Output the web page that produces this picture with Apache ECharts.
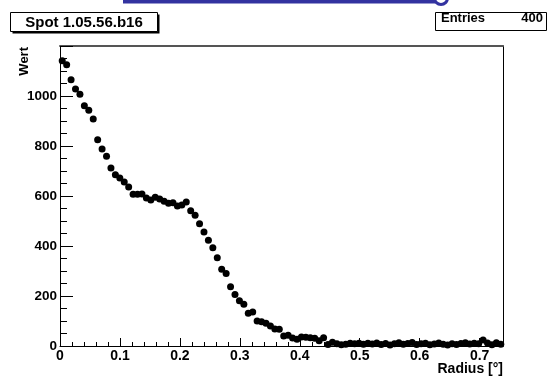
<!DOCTYPE html>
<html>
<head>
<meta charset="utf-8">
<script src="https://cdn.jsdelivr.net/npm/echarts@6.0.0/dist/echarts.min.js"></script>
<style>
  html, body { margin: 0; padding: 0; background: #fff; }
  #chart { width: 551px; height: 376px; }
</style>
</head>
<body>
<div id="chart"></div>
<script>
// histogram contents, 100 bins over the radius range
const wert = [
  1141, 1125, 1065, 1028, 1007, 961, 943, 908, 825, 788,
  759, 712, 685, 672, 656, 636, 607, 607, 608, 592,
  584, 595, 588, 579, 571, 573, 560, 564, 576, 541,
  523, 489, 456, 423, 393, 353, 307, 290, 237, 206,
  181, 167, 131, 136, 100, 97, 91, 80, 68, 67,
  40, 43, 32, 27, 36, 35, 33, 31, 21, 33,
  6, 15, 9, 5, 7, 11, 9, 11, 7, 11,
  8, 12, 6, 10, 4, 9, 13, 7, 10, 14,
  6, 9, 11, 5, 8, 12, 7, 4, 9, 6,
  10, 13, 8, 11, 9, 24, 12, 5, 13, 7
];
const radiusMin = 0;
const radiusMax = 0.739;
const wertMin = 0;
const wertMax = 1200;
const titleText = 'Spot 1.05.56.b16';
const entries = 400;

const binWidth = (radiusMax - radiusMin) / wert.length;
const points = wert.map((v, i) => [radiusMin + (i + 0.5) * binWidth, v]);

const font = '"Liberation Sans", Arial, Helvetica, sans-serif';
const chart = echarts.init(document.getElementById('chart'), null, { renderer: 'canvas' });

chart.setOption({
  animation: false,
  backgroundColor: '#fff',
  grid: { left: 60, top: 46, right: 48, bottom: 30, containLabel: false },
  xAxis: [
    {
      type: 'value',
      min: radiusMin,
      max: radiusMax,
      interval: 0.1,
      position: 'bottom',
      axisLine: { onZero: false, lineStyle: { color: '#000', width: 1 } },
      axisTick: { inside: true, length: 8, lineStyle: { color: '#000' } },
      minorTick: { show: true, splitNumber: 5, length: 4, lineStyle: { color: '#000' } },
      splitLine: { show: false },
      axisLabel: {
        showMaxLabel: false,
        margin: 3,
        color: '#000',
        fontFamily: font,
        fontWeight: 'bold',
        fontSize: 14,
        formatter: v => String(Math.round(v * 10) / 10)
      }
    },
    {
      type: 'value',
      min: radiusMin,
      max: radiusMax,
      position: 'top',
      axisLine: { onZero: false, lineStyle: { color: '#555', width: 2 } },
      axisTick: { show: false },
      axisLabel: { show: false },
      splitLine: { show: false }
    }
  ],
  yAxis: [
    {
      type: 'value',
      min: wertMin,
      max: wertMax,
      interval: 200,
      position: 'left',
      axisLine: { show: true, onZero: false, lineStyle: { color: '#000', width: 1 } },
      axisTick: { show: true, inside: true, length: 13, lineStyle: { color: '#000' } },
      minorTick: { show: true, splitNumber: 4, length: 7, lineStyle: { color: '#000' } },
      splitLine: { show: false },
      axisLabel: {
        showMaxLabel: false,
        margin: 3,
        color: '#000',
        fontFamily: font,
        fontWeight: 'bold',
        fontSize: 13.5,
        formatter: v => String(v)
      }
    },
    {
      type: 'value',
      min: wertMin,
      max: wertMax,
      position: 'right',
      axisLine: { show: true, onZero: false, lineStyle: { color: '#000', width: 1 } },
      axisTick: { show: false },
      axisLabel: { show: false },
      splitLine: { show: false }
    }
  ],
  series: [
    {
      type: 'scatter',
      xAxisIndex: 0,
      yAxisIndex: 0,
      data: points,
      symbol: 'circle',
      symbolSize: 7,
      itemStyle: { color: '#000', opacity: 1 },
      silent: true
    }
  ],
  graphic: [
    // cut-off link text above the canvas
    { type: 'rect', shape: { x: 123, y: 0, width: 312, height: 3.5 }, style: { fill: '#3333a0' } },
    { type: 'arc', shape: { cx: 441, cy: -2, r: 6.5, startAngle: 0, endAngle: Math.PI }, style: { stroke: '#3333a0', lineWidth: 3, fill: null } },
    // title box
    { type: 'rect', shape: { x: 12.5, y: 14.5, width: 147, height: 19 }, style: { fill: '#000' } },
    { type: 'rect', shape: { x: 10.5, y: 12.5, width: 147, height: 19 }, style: { fill: '#fff', stroke: '#000', lineWidth: 1 } },
    {
      type: 'text', x: 84, y: 22.5,
      style: { text: titleText, align: 'center', verticalAlign: 'middle', fill: '#000', font: 'bold 15px ' + font }
    },
    // stats box
    { type: 'rect', shape: { x: 435.5, y: 12.5, width: 111, height: 18 }, style: { fill: '#fff', stroke: '#000', lineWidth: 1 } },
    {
      type: 'text', x: 441, y: 18.5,
      style: { text: 'Entries', align: 'left', verticalAlign: 'middle', fill: '#000', font: 'bold 13px ' + font }
    },
    {
      type: 'text', x: 543, y: 18.5,
      style: { text: String(entries), align: 'right', verticalAlign: 'middle', fill: '#000', font: 'bold 13px ' + font }
    },
    // axis titles
    {
      type: 'text', x: 503, y: 369,
      style: { text: 'Radius [°]', align: 'right', verticalAlign: 'middle', fill: '#000', font: 'bold 14px ' + font }
    },
    {
      type: 'text', x: 24, y: 47, rotation: Math.PI / 2,
      style: { text: 'Wert', align: 'right', verticalAlign: 'middle', fill: '#000', font: 'bold 13px ' + font }
    }
  ]
});
</script>
</body>
</html>
